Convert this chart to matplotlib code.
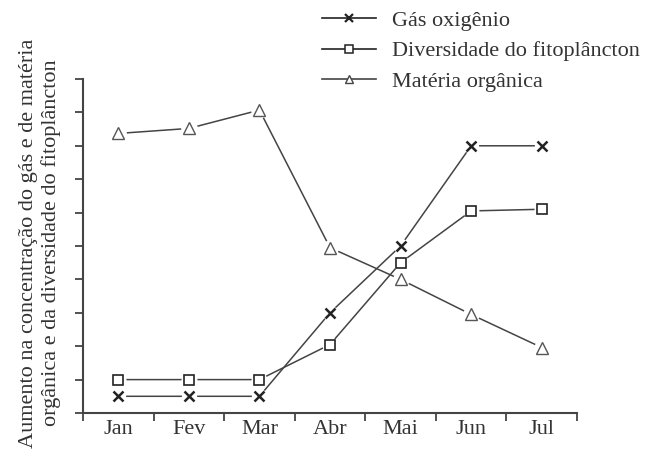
import matplotlib
matplotlib.use("Agg")
import matplotlib.pyplot as plt
from matplotlib.lines import Line2D
import numpy as np

# months and series
months = ["Jan", "Fev", "Mar", "Abr", "Mai", "Jun", "Jul"]
oxigenio = [0.5, 0.5, 0.5, 3.0, 5.0, 8.0, 8.0]
fitoplancton = [1.0, 1.0, 1.0, 2.05, 4.5, 6.05, 6.1]
materia = [8.37, 8.52, 9.07, 4.95, 4.0, 2.95, 1.96]

labels = ["Gás oxigênio", "Diversidade do fitoplâncton", "Matéria orgânica"]

plt.rcParams["font.family"] = ["Liberation Serif", "DejaVu Serif"]
plt.rcParams["font.size"] = 16

ink = "#333333"

fig = plt.figure(figsize=(6.6, 4.55), dpi=100)
ax = fig.add_axes([83 / 660, 1 - 413 / 455, (577 - 83) / 660, (413 - 79) / 455])

x = np.arange(len(months))
series = [
    (oxigenio, "x", 7, 1.8, "#222222", "none"),
    (fitoplancton, "s", 7.5, 1.2, "#222222", "white"),
    (materia, "^", 8, 1.0, "#555555", "white"),
]

# lines first, then white halos (gives the small gaps at the markers), then markers
for vals, m, ms, mew, col, face in series:
    ax.plot(x, vals, "-", color="#444444", lw=1.1, zorder=2)
for vals, m, ms, mew, col, face in series:
    ax.plot(x, vals, "o", ms=ms + 4, color="white", mew=0, zorder=3)
for vals, m, ms, mew, col, face in series:
    ax.plot(x, vals, m, ms=ms, mec=col, mfc=face, mew=mew, zorder=4)

ax.set_xlim(-0.5, 6.5)
ax.set_ylim(0, 10)
ax.set_xticks(x)
ax.set_xticklabels(months, color=ink)
ax.set_xticks(np.arange(-0.5, 7, 1), minor=True)
ax.tick_params(axis="x", which="major", length=0, pad=5)
ax.tick_params(axis="x", which="minor", length=6, width=1.3, color="#444444", direction="out")
ax.set_yticks(np.arange(0, 11, 1))
ax.set_yticklabels([])
ax.tick_params(axis="y", length=6, width=1.3, color="#444444", direction="out")

for s in ["top", "right"]:
    ax.spines[s].set_visible(False)
for s in ["left", "bottom"]:
    ax.spines[s].set_color("#444444")
    ax.spines[s].set_linewidth(1.5)

fig.text(40 / 660, 1 - 243 / 455,
         "Aumento na concentração do gás e de matéria\norgânica e da diversidade do fitoplâncton",
         rotation=90, ha="center", va="center", color=ink, linespacing=1.25)

handles = [
    Line2D([], [], color="#222222", lw=1.2, marker="x", ms=6, mew=1.6),
    Line2D([], [], color="#222222", lw=1.2, marker="s", ms=6, mfc="white", mew=1.1),
    Line2D([], [], color="#444444", lw=1.2, marker="^", ms=6, mfc="white", mew=1.0),
]
fig.legend(handles, labels, loc="upper left", bbox_to_anchor=(320 / 660, 1 - 8 / 455),
           frameon=False, handlelength=2.4, handletextpad=0.75, labelspacing=0.45,
           borderaxespad=0.0, borderpad=0.1, labelcolor=ink)

fig.savefig("out.png", dpi=100)
